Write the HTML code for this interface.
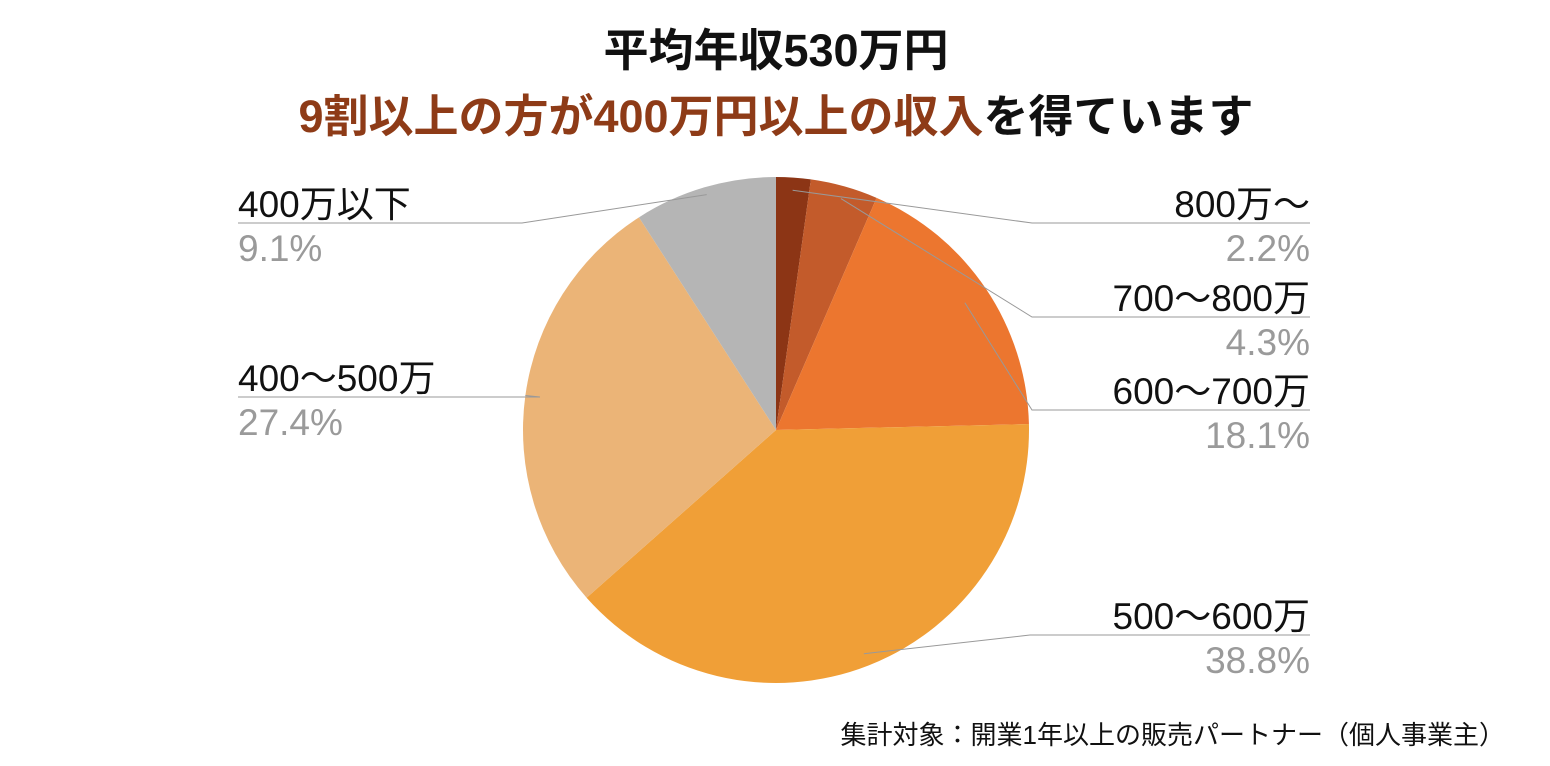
<!DOCTYPE html>
<html><head><meta charset="utf-8"><style>
body{margin:0;width:1550px;height:766px;background:#fff;overflow:hidden;font-family:"Liberation Sans","Noto Sans CJK JP",sans-serif}
</style></head><body>
<svg width="1550" height="766" style="position:absolute;left:0;top:0">
<text x="776" y="66" text-anchor="middle" font-size="45" font-weight="bold" fill="#111">平均年収530万円</text>
<text x="776" y="132" text-anchor="middle" font-size="45" font-weight="bold"><tspan fill="#8E3B17">9割以上の方が400万円以上の収入</tspan><tspan fill="#111">を得ています</tspan></text>
<g id="pie"></g>
<text x="1505" y="744" text-anchor="end" font-size="26" fill="#111">集計対象：開業1年以上の販売パートナー（個人事業主）</text>
</svg>
<script>
const categories=["800万〜","700〜800万","600〜700万","500〜600万","400〜500万","400万以下"];
const values=[2.2,4.3,18.1,38.8,27.4,9.1];
const colors=["#8C3515","#C35B2B","#EC762F","#F09F37","#EBB477","#B5B5B5"];
const cx=776,cy=430,r=253;
const lab=[{side:"r",y:223,lx:1032},{side:"r",y:317,lx:1032},{side:"r",y:410,lx:1032},{side:"r",y:635,lx:1030},{side:"l",y:397,lx:540},{side:"l",y:223,lx:522}];
const anchorR=[0.95,0.95,0.9,0.95,1.0,0.97];
const g=document.getElementById('pie');const NS="http://www.w3.org/2000/svg";
const total=values.reduce((a,b)=>a+b,0);
function pt(a,rr){return [cx+rr*Math.sin(a),cy-rr*Math.cos(a)];}
let acc=0;
values.forEach((v,i)=>{
 const a0=acc/total*2*Math.PI;acc+=v;const a1=acc/total*2*Math.PI;
 const p0=pt(a0,r),p1=pt(a1,r);
 const p=document.createElementNS(NS,'path');
 p.setAttribute('d',`M${cx},${cy}L${p0[0]},${p0[1]}A${r},${r} 0 ${a1-a0>Math.PI?1:0} 1 ${p1[0]},${p1[1]}Z`);
 p.setAttribute('fill',colors[i]);
 
 
 g.appendChild(p);
});
acc=0;
values.forEach((v,i)=>{
 const am=(acc+v/2)/total*2*Math.PI;acc+=v;
 const L=lab[i];const a=pt(am,r*anchorR[i]);
 const ex=L.side=="r"?1310:238;
 const pl=document.createElementNS(NS,'polyline');
 pl.setAttribute('points',`${a[0]},${a[1]} ${L.lx},${L.y} ${ex},${L.y}`);
 pl.setAttribute('fill','none');pl.setAttribute('stroke','#999');pl.setAttribute('stroke-width','1');
 
 
 g.appendChild(pl);
 const anchor=L.side=="r"?"end":"start";
 const t1=document.createElementNS(NS,'text');
 t1.setAttribute('x',ex);t1.setAttribute('y',L.y-6);t1.setAttribute('text-anchor',anchor);
 t1.setAttribute('font-size','37');t1.setAttribute('fill','#111');t1.textContent=categories[i];
 
 
 g.appendChild(t1);
 const t2=document.createElementNS(NS,'text');
 t2.setAttribute('x',ex);t2.setAttribute('y',L.y+38);t2.setAttribute('text-anchor',anchor);
 t2.setAttribute('font-size','37');t2.setAttribute('fill','#9a9a9a');t2.textContent=v.toFixed(1)+"%";
 
 
 g.appendChild(t2);
});
</script>
</body></html>
